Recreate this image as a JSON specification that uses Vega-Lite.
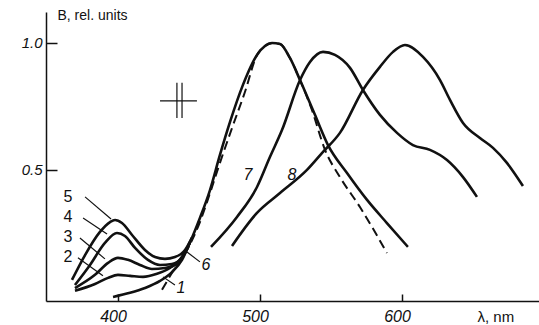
{
  "$schema": "https://vega.github.io/schema/vega-lite/v6.json",
  "width": 493,
  "height": 289,
  "autosize": {"type": "none"},
  "padding": {"left": 46, "top": 12, "right": 0, "bottom": 24},
  "background": "white",
  "config": {
    "view": {"stroke": null},
    "axis": {"grid": false, "domainColor": "#111", "tickColor": "#111", "labelColor": "#111", "titleColor": "#111", "labelFont": "Liberation Sans", "titleFont": "Liberation Sans", "titleFontWeight": "normal"}
  },
  "datasets": {
    "curves": [
      {"curve": "5", "wl": 367.6, "b": 0.067},
      {"curve": "5", "wl": 376.8, "b": 0.165},
      {"curve": "5", "wl": 387.3, "b": 0.256},
      {"curve": "5", "wl": 394.4, "b": 0.295},
      {"curve": "5", "wl": 397.9, "b": 0.303},
      {"curve": "5", "wl": 402.8, "b": 0.291},
      {"curve": "5", "wl": 409.9, "b": 0.244},
      {"curve": "5", "wl": 419.0, "b": 0.185},
      {"curve": "5", "wl": 426.1, "b": 0.157},
      {"curve": "5", "wl": 433.1, "b": 0.15},
      {"curve": "5", "wl": 440.1, "b": 0.157},
      {"curve": "5", "wl": 447.2, "b": 0.185},
      {"curve": "5", "wl": 452.1, "b": 0.234},
      {"curve": "4", "wl": 369.7, "b": 0.047},
      {"curve": "4", "wl": 380.3, "b": 0.126},
      {"curve": "4", "wl": 390.8, "b": 0.213},
      {"curve": "4", "wl": 399.3, "b": 0.252},
      {"curve": "4", "wl": 404.9, "b": 0.24},
      {"curve": "4", "wl": 412.0, "b": 0.193},
      {"curve": "4", "wl": 421.1, "b": 0.146},
      {"curve": "4", "wl": 429.6, "b": 0.126},
      {"curve": "4", "wl": 438.0, "b": 0.13},
      {"curve": "4", "wl": 445.1, "b": 0.154},
      {"curve": "4", "wl": 450.7, "b": 0.215},
      {"curve": "3", "wl": 369.7, "b": 0.035},
      {"curve": "3", "wl": 383.8, "b": 0.087},
      {"curve": "3", "wl": 393.0, "b": 0.134},
      {"curve": "3", "wl": 400.0, "b": 0.154},
      {"curve": "3", "wl": 407.0, "b": 0.146},
      {"curve": "3", "wl": 415.5, "b": 0.126},
      {"curve": "3", "wl": 423.9, "b": 0.11},
      {"curve": "3", "wl": 433.1, "b": 0.114},
      {"curve": "3", "wl": 441.5, "b": 0.134},
      {"curve": "3", "wl": 448.6, "b": 0.19},
      {"curve": "2", "wl": 369.7, "b": 0.024},
      {"curve": "2", "wl": 383.8, "b": 0.051},
      {"curve": "2", "wl": 393.0, "b": 0.075},
      {"curve": "2", "wl": 400.0, "b": 0.087},
      {"curve": "2", "wl": 408.5, "b": 0.083},
      {"curve": "2", "wl": 417.6, "b": 0.079},
      {"curve": "2", "wl": 427.5, "b": 0.091},
      {"curve": "2", "wl": 436.6, "b": 0.114},
      {"curve": "2", "wl": 445.1, "b": 0.154},
      {"curve": "2", "wl": 450.7, "b": 0.215},
      {"curve": "1", "wl": 396.5, "b": 0.0},
      {"curve": "1", "wl": 408.5, "b": 0.016},
      {"curve": "1", "wl": 419.0, "b": 0.035},
      {"curve": "1", "wl": 429.6, "b": 0.063},
      {"curve": "1", "wl": 438.0, "b": 0.098},
      {"curve": "1", "wl": 445.1, "b": 0.146},
      {"curve": "1", "wl": 450.7, "b": 0.215},
      {"curve": "main", "wl": 448.6, "b": 0.19},
      {"curve": "main", "wl": 450.7, "b": 0.215},
      {"curve": "main", "wl": 457.7, "b": 0.311},
      {"curve": "main", "wl": 464.8, "b": 0.421},
      {"curve": "main", "wl": 471.8, "b": 0.559},
      {"curve": "main", "wl": 478.9, "b": 0.689},
      {"curve": "main", "wl": 488.0, "b": 0.835},
      {"curve": "main", "wl": 497.9, "b": 0.953},
      {"curve": "main", "wl": 503.5, "b": 0.988},
      {"curve": "main", "wl": 508.5, "b": 1.0},
      {"curve": "main", "wl": 514.1, "b": 0.996},
      {"curve": "main", "wl": 521.1, "b": 0.941},
      {"curve": "main", "wl": 528.2, "b": 0.854},
      {"curve": "main", "wl": 538.7, "b": 0.717},
      {"curve": "main", "wl": 547.9, "b": 0.598},
      {"curve": "main", "wl": 561.3, "b": 0.488},
      {"curve": "main", "wl": 575.4, "b": 0.382},
      {"curve": "main", "wl": 589.4, "b": 0.291},
      {"curve": "main", "wl": 604.2, "b": 0.197},
      {"curve": "6", "wl": 431.0, "b": 0.028},
      {"curve": "6", "wl": 440.1, "b": 0.114},
      {"curve": "6", "wl": 448.6, "b": 0.185},
      {"curve": "6", "wl": 457.7, "b": 0.295},
      {"curve": "6", "wl": 464.8, "b": 0.409},
      {"curve": "6", "wl": 471.8, "b": 0.528},
      {"curve": "6", "wl": 480.3, "b": 0.665},
      {"curve": "6", "wl": 489.4, "b": 0.807},
      {"curve": "6", "wl": 497.9, "b": 0.953},
      {"curve": "6", "wl": 503.5, "b": 0.988},
      {"curve": "6", "wl": 508.5, "b": 1.0},
      {"curve": "6", "wl": 514.1, "b": 0.996},
      {"curve": "6", "wl": 521.1, "b": 0.941},
      {"curve": "6", "wl": 528.2, "b": 0.854},
      {"curve": "6", "wl": 536.6, "b": 0.736},
      {"curve": "6", "wl": 545.8, "b": 0.579},
      {"curve": "6", "wl": 556.3, "b": 0.472},
      {"curve": "6", "wl": 570.4, "b": 0.354},
      {"curve": "6", "wl": 589.4, "b": 0.173},
      {"curve": "7", "wl": 465.5, "b": 0.197},
      {"curve": "7", "wl": 483.8, "b": 0.315},
      {"curve": "7", "wl": 497.9, "b": 0.433},
      {"curve": "7", "wl": 507.0, "b": 0.551},
      {"curve": "7", "wl": 515.5, "b": 0.657},
      {"curve": "7", "wl": 528.2, "b": 0.854},
      {"curve": "7", "wl": 535.2, "b": 0.925},
      {"curve": "7", "wl": 544.4, "b": 0.965},
      {"curve": "7", "wl": 552.8, "b": 0.953},
      {"curve": "7", "wl": 563.4, "b": 0.902},
      {"curve": "7", "wl": 572.5, "b": 0.815},
      {"curve": "7", "wl": 584.5, "b": 0.717},
      {"curve": "7", "wl": 596.5, "b": 0.646},
      {"curve": "7", "wl": 607.7, "b": 0.598},
      {"curve": "7", "wl": 619.7, "b": 0.579},
      {"curve": "7", "wl": 631.7, "b": 0.539},
      {"curve": "7", "wl": 643.0, "b": 0.472},
      {"curve": "7", "wl": 652.8, "b": 0.394},
      {"curve": "8", "wl": 480.3, "b": 0.201},
      {"curve": "8", "wl": 497.9, "b": 0.331},
      {"curve": "8", "wl": 514.1, "b": 0.409},
      {"curve": "8", "wl": 533.1, "b": 0.5},
      {"curve": "8", "wl": 544.4, "b": 0.571},
      {"curve": "8", "wl": 556.3, "b": 0.646},
      {"curve": "8", "wl": 572.5, "b": 0.815},
      {"curve": "8", "wl": 584.5, "b": 0.906},
      {"curve": "8", "wl": 593.7, "b": 0.965},
      {"curve": "8", "wl": 602.1, "b": 0.992},
      {"curve": "8", "wl": 614.8, "b": 0.945},
      {"curve": "8", "wl": 626.8, "b": 0.854},
      {"curve": "8", "wl": 633.8, "b": 0.776},
      {"curve": "8", "wl": 643.0, "b": 0.685},
      {"curve": "8", "wl": 654.9, "b": 0.626},
      {"curve": "8", "wl": 664.1, "b": 0.587},
      {"curve": "8", "wl": 673.9, "b": 0.528},
      {"curve": "8", "wl": 685.2, "b": 0.437}
    ],
    "rules": [
      {"kind": "leader", "x1": 376.8, "y1": 0.394, "x2": 395.1, "y2": 0.307},
      {"kind": "leader", "x1": 375.4, "y1": 0.311, "x2": 392.3, "y2": 0.248},
      {"kind": "leader", "x1": 373.2, "y1": 0.232, "x2": 390.8, "y2": 0.15},
      {"kind": "leader", "x1": 371.8, "y1": 0.154, "x2": 389.4, "y2": 0.083},
      {"kind": "leader", "x1": 440.1, "y1": 0.047, "x2": 431.7, "y2": 0.079},
      {"kind": "leader", "x1": 457.7, "y1": 0.138, "x2": 448.6, "y2": 0.177},
      {"kind": "cross", "x1": 429.6, "y1": 0.772, "x2": 455.6, "y2": 0.772},
      {"kind": "cross", "x1": 441.5, "y1": 0.843, "x2": 441.5, "y2": 0.705},
      {"kind": "cross", "x1": 445.1, "y1": 0.843, "x2": 445.1, "y2": 0.705}
    ],
    "labels": [
      {"label": "5", "wl": 364.8, "b": 0.394, "style": "upright"},
      {"label": "4", "wl": 364.8, "b": 0.315, "style": "upright"},
      {"label": "3", "wl": 364.8, "b": 0.236, "style": "upright"},
      {"label": "2", "wl": 364.8, "b": 0.157, "style": "upright"},
      {"label": "1", "wl": 444.4, "b": 0.035, "style": "italic"},
      {"label": "6", "wl": 462.0, "b": 0.126, "style": "italic"},
      {"label": "7", "wl": 491.5, "b": 0.48, "style": "italic"},
      {"label": "8", "wl": 522.5, "b": 0.48, "style": "italic"}
    ]
  },
  "layer": [
    {
      "data": {"name": "curves"},
      "transform": [{"filter": "datum.curve != '6'"}],
      "mark": {"type": "line", "color": "#111", "strokeWidth": 2.6, "interpolate": "monotone"},
      "encoding": {
        "x": {"field": "wl", "type": "quantitative", "scale": {"domain": [349.3, 696.5], "nice": false, "zero": false},
          "axis": {"values": [400, 500, 600], "tickSize": -7, "tickWidth": 1.5, "domainWidth": 1.5, "labelPadding": 14, "labelOffset": -5, "labelFontSize": 16, "labelFontStyle": "italic", "title": "λ, nm", "titleFontSize": 15, "titleX": 431, "titleY": 15, "titleAlign": "left", "titleBaseline": "middle", "titleAnchor": null}},
        "y": {"field": "b", "type": "quantitative", "scale": {"domain": [-0.016, 1.122], "nice": false, "zero": false},
          "axis": {"values": [0.5, 1.0], "format": ".1f", "tickSize": -11, "tickWidth": 1.5, "domainWidth": 1.5, "labelPadding": 15, "labelFontSize": 15, "labelFontStyle": "italic", "title": "B, rel. units", "titleAngle": 0, "titleFontSize": 14, "titleX": 11, "titleY": 3, "titleAlign": "left", "titleBaseline": "middle", "titleAnchor": null}},
        "detail": {"field": "curve", "type": "nominal"}
      }
    },
    {
      "data": {"name": "curves"},
      "transform": [{"filter": "datum.curve == '6'"}],
      "mark": {"type": "line", "color": "#111", "strokeWidth": 2, "strokeDash": [9, 5], "interpolate": "monotone"},
      "encoding": {
        "x": {"field": "wl", "type": "quantitative"},
        "y": {"field": "b", "type": "quantitative"}
      }
    },
    {
      "data": {"name": "rules"},
      "mark": {"type": "rule", "color": "#111", "strokeWidth": 1.2},
      "encoding": {
        "x": {"field": "x1", "type": "quantitative"},
        "x2": {"field": "x2"},
        "y": {"field": "y1", "type": "quantitative"},
        "y2": {"field": "y2"}
      }
    },
    {
      "data": {"name": "labels"},
      "transform": [{"filter": "datum.style == 'upright'"}],
      "mark": {"type": "text", "font": "Liberation Sans", "fontSize": 16, "color": "#111", "align": "center", "baseline": "middle"},
      "encoding": {
        "x": {"field": "wl", "type": "quantitative"},
        "y": {"field": "b", "type": "quantitative"},
        "text": {"field": "label"}
      }
    },
    {
      "data": {"name": "labels"},
      "transform": [{"filter": "datum.style == 'italic'"}],
      "mark": {"type": "text", "font": "Liberation Sans", "fontSize": 16, "fontStyle": "italic", "color": "#111", "align": "center", "baseline": "middle"},
      "encoding": {
        "x": {"field": "wl", "type": "quantitative"},
        "y": {"field": "b", "type": "quantitative"},
        "text": {"field": "label"}
      }
    }
  ]
}
